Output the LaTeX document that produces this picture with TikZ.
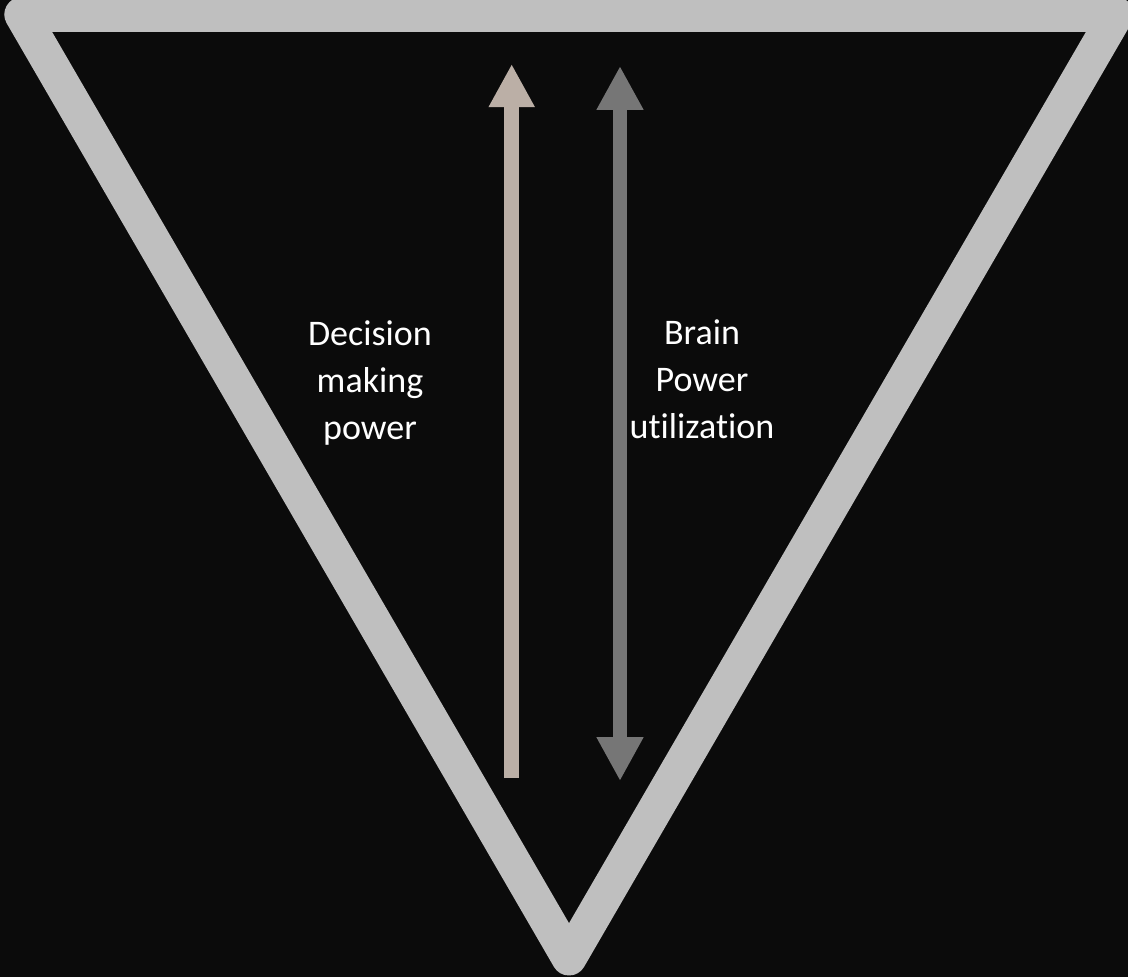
\documentclass[tikz,border=0pt]{standalone}
\usepackage{fontspec}
\setsansfont{Carlito}[Ligatures=NoCommon]
\usepackage{tikz}
\usetikzlibrary{arrows.meta,calc,positioning}
\definecolor{sfondo}{HTML}{0B0B0B}
\definecolor{bordo}{HTML}{BFBFBF}
\definecolor{decisione}{HTML}{BBAFA6}
\definecolor{cervello}{HTML}{767676}

\begin{document}
\begin{tikzpicture}[x=0.02cm, y=-0.02cm, font=\sffamily,
    freccia/.style={line width=8.3pt, line cap=butt},
    etichetta/.style={text=white, align=center, font=\sffamily\fontsize{20.5}{26.7}\selectfont}]
    % Sfondo
    \fill[sfondo] (0,0) rectangle (1128,977);
    \useasboundingbox (0,0) rectangle (1128,977);

    % Triangolo rovesciato
    \coordinate (tl) at (21.8,14.5);
    \coordinate (tr) at (1116.2,14.5);
    \coordinate (bt) at (569,958);
    \draw[bordo, line width=19.9pt, line join=round] (tl) -- (tr) -- (bt) -- cycle;

    % Freccia potere decisionale
    \coordinate (dm-bot) at (511.7,778);
    \coordinate (dm-top) at (511.7,64);
    \draw[freccia, decisione, -{Triangle[length=24.5pt, width=24.5pt]}] (dm-bot) -- (dm-top);

    % Freccia doppia cervello
    \coordinate (bp-top) at (620,66);
    \coordinate (bp-bot) at (620,781);
    \draw[freccia, cervello, {Triangle[length=25pt, width=25pt]}-{Triangle[length=25pt, width=25pt]}] (bp-top) -- (bp-bot);

    % Etichette
    \node[etichetta] (dm-label) at (370,383) {Decision\\making\\power};
    \node[etichetta] (bp-label) at (702,379) {Brain\\Power\\utilization};
\end{tikzpicture}
\end{document}
